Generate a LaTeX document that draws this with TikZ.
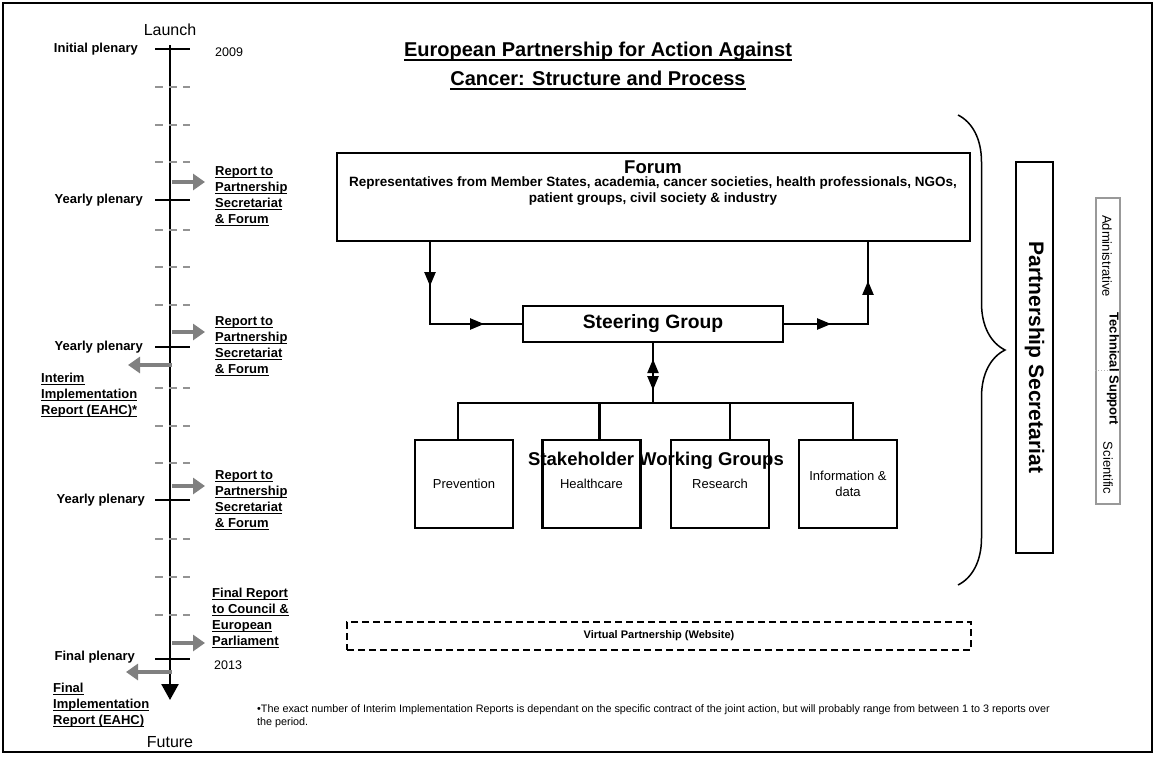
\documentclass[tikz,border=0pt]{standalone}
\usepackage{fontspec}
\setmainfont{Liberation Sans}
\usetikzlibrary{arrows.meta,decorations.pathreplacing,decorations.markings}
\newcommand\fsz[2]{\fontsize{#1}{#2}\selectfont}
\newcommand\undl[1]{\setbox0\hbox{#1}\rlap{\vrule height -0.12em depth 0.2em width \wd0}\box0}

\begin{document}
\begin{tikzpicture}[x = 1pt, y = -1pt,
    txt/.style = {inner sep = 0pt, font = \fsz{13}{16}\bfseries},
    rep/.style = {inner sep = 0pt, anchor = west, align = left, font = \fsz{13}{16}\bfseries},
    plen/.style = {line width = 2pt},
    gtick/.style = {line width = 2pt, draw = gray!85, dash pattern = on 8pt off 6pt},
    garrow/.style = {line width = 4.5pt, draw = gray, -{Triangle[width = 16pt, length = 12pt]}},
    box/.style = {draw, line width = 2.2pt, inner sep = 0pt},
    wg/.style = {box, minimum width = 98pt, minimum height = 88pt},
    tri/.tip = {Triangle[width = 11pt, length = 14pt]},
    link/.style = {line width = 2.2pt, postaction = decorate}]
  \useasboundingbox (0, 0) rectangle (1157, 769);
  \draw[line width = 1.2pt] (3, 3) rectangle (1152, 752);

  % timeline
  \node[font = \fsz{16}{18}] (launch) at (170, 30) {Launch};
  \node[font = \fsz{16}{18}] (future) at (170, 742) {Future};
  \coordinate (tltop) at (170, 45);
  \coordinate (tlend) at (170, 700);
  \draw[line width = 2.5pt, -{Triangle[width = 17pt, length = 16pt]}] (tltop) -- (tlend);
  \foreach \y in {49, 200, 347, 500, 659}
    \draw[plen] (155, \y) -- (190, \y);
  \foreach \y in {87, 125, 162, 230, 267, 305, 388, 426, 463, 539, 577, 615}
    \draw[gtick] (155, \y) -- (190, \y);

  \node[txt, anchor = east] (p0) at (138, 49) {Initial plenary};
  \node[txt, anchor = east] (p1) at (143, 200) {Yearly plenary};
  \node[txt, anchor = east] (p2) at (143, 347) {Yearly plenary};
  \node[txt, anchor = east] (p3) at (145, 500) {Yearly plenary};
  \node[txt, anchor = east] (p4) at (135, 657) {Final plenary};
  \node[inner sep = 0pt, anchor = west, font = \fsz{12.5}{14}] (y0) at (215, 52) {2009};
  \node[inner sep = 0pt, anchor = west, font = \fsz{12.5}{14}] (y1) at (214, 665) {2013};

  \node[rep] (rep1) at (215, 196) {\undl{Report to}\\\undl{Partnership}\\\undl{Secretariat}\\\undl{\& Forum}};
  \node[rep] (rep2) at (215, 346) {\undl{Report to}\\\undl{Partnership}\\\undl{Secretariat}\\\undl{\& Forum}};
  \node[rep] (rep3) at (215, 500) {\undl{Report to}\\\undl{Partnership}\\\undl{Secretariat}\\\undl{\& Forum}};
  \node[rep] (rep4) at (212, 618) {\undl{Final Report}\\\undl{to Council \&}\\\undl{European}\\\undl{Parliament}};
  \node[rep] (imp1) at (41, 395) {\undl{Interim}\\\undl{Implementation}\\\undl{Report (EAHC)*}};
  \node[rep] (imp2) at (53, 705) {\undl{Final}\\\undl{Implementation}\\\undl{Report (EAHC)}};

  \coordinate (r1) at (172, 182);
  \coordinate (r2) at (172, 332);
  \coordinate (r3) at (172, 486);
  \coordinate (r4) at (172, 643);
  \coordinate (l1) at (172, 365);
  \coordinate (l2) at (172, 672);
  \foreach \c in {r1, r2, r3, r4}
    \draw[garrow] (\c) -- ++(33, 0);
  \draw[garrow] (l1) -- ++(-44, 0);
  \draw[garrow] (l2) -- ++(-46, 0);

  % title
  \node[align = center, font = \fsz{20}{29}\bfseries] (title) at (598, 66)
    {\undl{European Partnership for Action Against}\\\undl{Cancer: Structure and Process}};

  % structure
  \node[box, minimum width = 633pt, minimum height = 88pt] (forum) at (653.5, 197) {};
  \node[font = \fsz{18.5}{20}\bfseries] (forumt) at (653, 167) {Forum};
  \node[align = center, font = \fsz{13.5}{15.5}\bfseries] (forums) at (653, 191)
    {Representatives from Member States, academia, cancer societies, health professionals, NGOs,\\patient groups, civil society \& industry};
  \node[box, minimum width = 260pt, minimum height = 36pt, font = \fsz{19.3}{20}\bfseries] (steer) at (653, 324) {Steering Group};

  \coordinate (fl) at (430, 0);
  \coordinate (fr) at (868, 0);
  \coordinate (bus) at (653, 403);
  \draw[link, decoration = {markings,
      mark = at position 44pt with {\arrow{tri}},
      mark = at position 136pt with {\arrow{tri}}}]
    (fl |- forum.south) |- (steer.west);
  \draw[link, decoration = {markings,
      mark = at position 47pt with {\arrow{tri}},
      mark = at position 127pt with {\arrow{tri}}}]
    (steer.east) -| (fr |- forum.south);
  \draw[link, decoration = {markings,
      mark = at position 16pt with {\arrowreversed{tri}},
      mark = at position 47pt with {\arrow{tri}}}]
    (steer.south) -- (bus);

  \node[font = \fsz{18.5}{20}\bfseries] (swg) at (656, 461) {Stakeholder Working Groups};
  \node[wg, font = \fsz{13}{16}] (prev) at (464, 484) {Prevention};
  \node[wg, font = \fsz{13}{16}] (hc) at (591.5, 484) {Healthcare};
  \node[wg, font = \fsz{13}{16}] (res) at (720, 484) {Research};
  \node[wg, font = \fsz{13}{16}, align = center] (info) at (848, 484) {Information \&\\data};
  \draw[line width = 2.2pt] ([xshift = -6pt]prev.north) |- (bus) -| ([xshift = 5pt]info.north);
  \draw[line width = 2.2pt] ([xshift = 8pt]hc.north) -- ([xshift = 8pt]hc.north |- bus);
  \draw[line width = 2.2pt] ([xshift = 10pt]res.north) -- ([xshift = 10pt]res.north |- bus);

  \node[draw, line width = 1.8pt, dash pattern = on 7pt off 4pt, minimum width = 624pt, minimum height = 28pt,
    font = \fsz{11}{13}\bfseries] (virt) at (659, 636) {Virtual Partnership (Website)};

  \node[anchor = west, align = left, inner sep = 0pt, font = \fsz{10.8}{13}] (note) at (257, 716)
    {\textbullet The exact number of Interim Implementation Reports is dependant on the specific contract of the joint action, but will probably range from between 1 to 3 reports over\\the period.};

  % secretariat
  \coordinate (bt) at (958, 115);
  \coordinate (bb) at (958, 585);
  \draw[line width = 1.5pt, decorate, decoration = {brace, amplitude = 47pt}] (bt) -- (bb);
  \node[box, rotate = -90, minimum width = 391pt, minimum height = 37pt, font = \fsz{21}{23}\bfseries] (sec) at (1034.5, 357.5) {Partnership Secretariat};
  \node[draw = gray!80, line width = 1.5pt, minimum width = 24pt, minimum height = 306pt] (sup) at (1108, 351) {};
  \coordinate (dl) at (0, 370);
  \draw[gray!60, dotted, line width = 1pt] (sup.west |- dl) -- (sup.east |- dl);
  \node[rotate = -90, inner sep = 0pt, font = \fsz{13}{15}] (adm) at (1107, 256) {Administrative};
  \node[rotate = -90, inner sep = 0pt, font = \fsz{13}{15}\bfseries] (tec) at (1113, 369) {Technical Support};
  \node[rotate = -90, inner sep = 0pt, font = \fsz{13}{15}] (sci) at (1108, 468) {Scientific};
\end{tikzpicture}
\end{document}
